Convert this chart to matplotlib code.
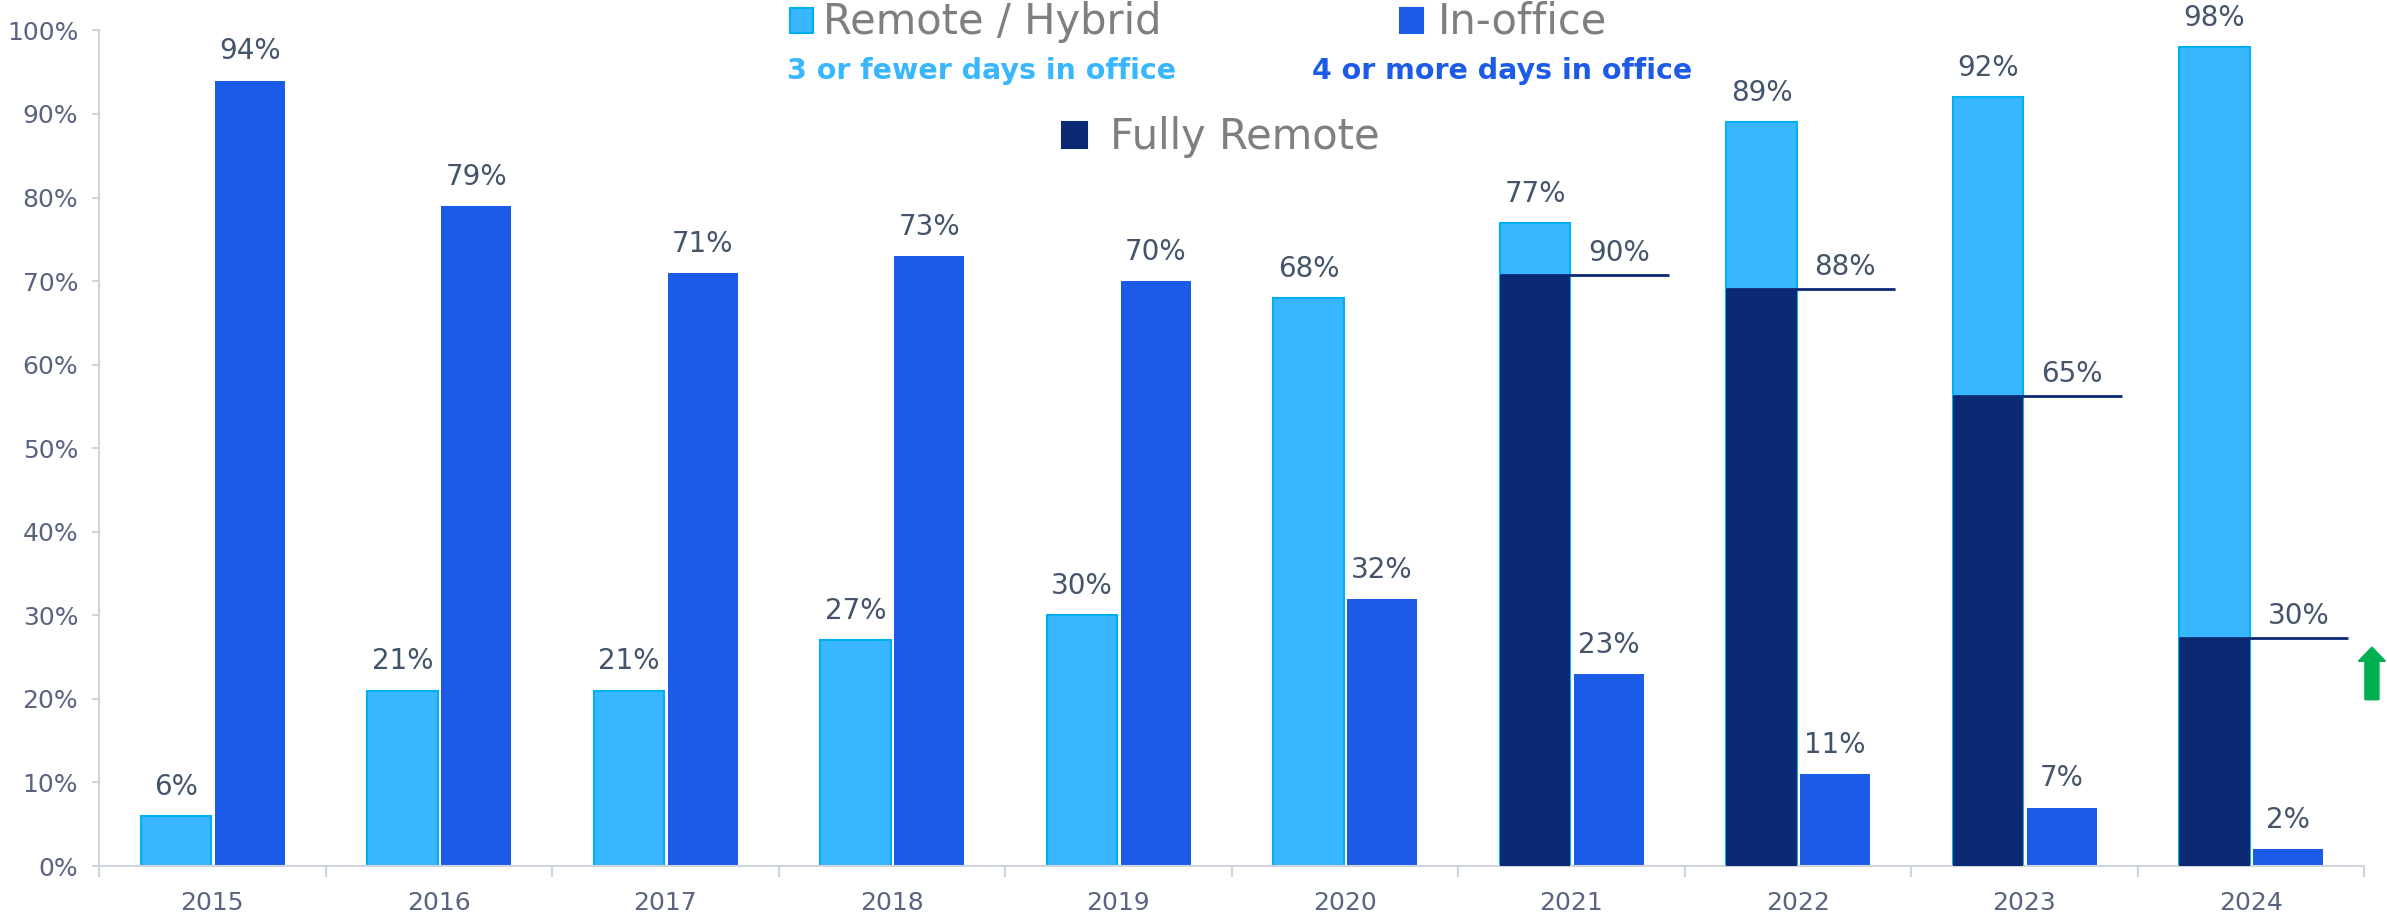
import matplotlib.pyplot as plt
from matplotlib.patches import Rectangle, FancyArrow
import numpy as np

plt.rcParams['font.family'] = ['DejaVu Sans']

years = ['2015', '2016', '2017', '2018', '2019', '2020', '2021', '2022', '2023', '2024']
remote_hybrid = [6, 21, 21, 27, 30, 68, 77, 89, 92, 98]
in_office = [94, 79, 71, 73, 70, 32, 23, 11, 7, 2]
# fully remote part drawn inside the remote / hybrid bar (2021-2024)
fully_idx = [6, 7, 8, 9]
fully_remote = [70.7, 69.0, 56.2, 27.3]
fully_labels = ['90%', '88%', '65%', '30%']

LIGHT = '#38B6FF'
LIGHT_EDGE = '#00B0F0'
BLUE = '#1C5AE8'
NAVY = '#0C2A74'
LBL = '#44546A'
TICK = '#5A6480'
GRAY = '#7F7F7F'

W, H = 2387, 923
fig = plt.figure(figsize=(W / 100, H / 100), dpi=100)
ax = fig.add_axes([99 / W, 1 - 866 / H, (2364 - 99) / W, (866 - 30.4) / H])

x = np.arange(len(years))
bw = 0.31
off_l, off_r = -0.16, 0.165

ax.bar(x + off_l, remote_hybrid, bw, color=LIGHT, edgecolor=LIGHT_EDGE, linewidth=1.5, zorder=2)
ax.bar(x + off_r, in_office, bw, color=BLUE, linewidth=0, zorder=2)
fx = np.array(fully_idx)
ax.bar(fx + off_l, fully_remote, bw, color=NAVY, linewidth=0, zorder=3)

for i in range(len(years)):
    ax.text(x[i] + off_l, remote_hybrid[i] + 1.8, f'{remote_hybrid[i]}%', ha='center', va='bottom',
            fontsize=20, color=LBL)
    ax.text(x[i] + off_r, in_office[i] + 1.8, f'{in_office[i]}%', ha='center', va='bottom',
            fontsize=20, color=LBL)

for j, i in enumerate(fully_idx):
    ax.plot([i + off_l - bw / 2, i + 0.43], [fully_remote[j], fully_remote[j]], color=NAVY,
            lw=2, zorder=4, solid_capstyle='butt')
    ax.text(i + 0.21, fully_remote[j] + 1.0, fully_labels[j], ha='center', va='bottom',
            fontsize=20, color=LBL)

# green up arrow at the right end
ax.add_patch(FancyArrow(9.535, 19.9, 0, 6.3, width=0.062, head_width=0.12, head_length=1.7,
                        length_includes_head=True, color='#00B050', clip_on=False, zorder=5))

ax.set_xlim(-0.5, 9.5)
ax.set_ylim(0, 100)
ax.set_yticks(range(0, 101, 10))
ax.set_yticklabels([f'{v}%' for v in range(0, 101, 10)])
ax.set_xticks(x)
ax.set_xticklabels(years)
ax.set_xticks(np.arange(-0.5, 10, 1), minor=True)
ax.tick_params(axis='x', which='major', length=0, pad=18, labelsize=18, labelcolor=TICK)
ax.tick_params(axis='x', which='minor', length=8, width=1.5, color='#D0D4DE')
ax.tick_params(axis='y', length=5, width=1.5, color='#D0D4DE', labelsize=18, labelcolor=TICK, pad=10)
for s in ['top', 'right']:
    ax.spines[s].set_visible(False)
for s in ['left', 'bottom']:
    ax.spines[s].set_color('#D0D4DE')
    ax.spines[s].set_linewidth(1.5)

# legend drawn by hand
def square(px, py0, py1, w, fc, ec=None):
    fig.patches.append(Rectangle((px / W, 1 - py1 / H), w / W, (py1 - py0) / H, facecolor=fc,
                                 edgecolor=ec or fc, linewidth=1.5, transform=fig.transFigure))

square(790, 8, 33, 23, LIGHT, LIGHT_EDGE)
fig.text(823 / W, 1 - 22 / H, 'Remote / Hybrid', fontsize=30, color=GRAY, va='center')
fig.text(787 / W, 1 - 71 / H, '3 or fewer days in office', fontsize=20.5, color=LIGHT,
         fontweight='bold', va='center')
square(1400, 8, 33, 23, BLUE)
fig.text(1438 / W, 1 - 22 / H, 'In-office', fontsize=30, color=GRAY, va='center')
fig.text(1312 / W, 1 - 71 / H, '4 or more days in office', fontsize=20.5, color=BLUE,
         fontweight='bold', va='center')
square(1062, 122, 148, 25, NAVY)
fig.text(1110 / W, 1 - 137 / H, 'Fully Remote', fontsize=30, color=GRAY, va='center')

fig.savefig('out.png', dpi=100)
